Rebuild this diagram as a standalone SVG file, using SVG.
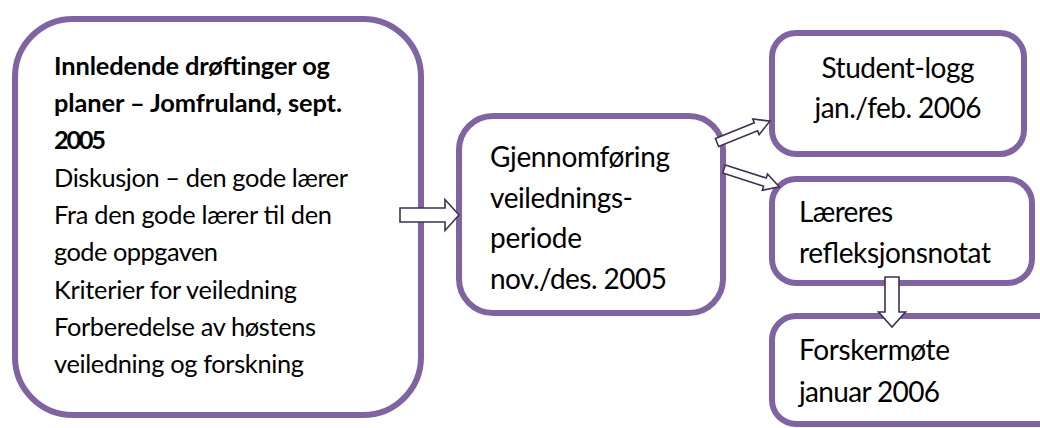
<svg xmlns="http://www.w3.org/2000/svg" width="1040" height="428" viewBox="0 0 1040 428">
<style>
.box{fill:#ffffff;stroke:#8064a2;stroke-width:6}
.arr{fill:#ffffff;stroke:#3f3151;stroke-width:1.6;stroke-linejoin:miter}
text{font-family:Lato,"Open Sans","Liberation Sans",sans-serif;fill:#000000}
.l{font-size:25.4px}
.b{font-weight:bold}
.m{font-size:28px}
</style>
<rect x="0" y="0" width="1040" height="428" fill="#ffffff"/>
<g id="node-planer">
<rect class="box" x="15" y="19" width="406" height="396" rx="58" ry="58"/>
<text class="l b" x="54" y="75" textLength="276">Innledende drøftinger og</text>
<text class="l b" x="54" y="112" textLength="288">planer – Jomfruland, sept.</text>
<text class="l b" x="54" y="149" textLength="52">2005</text>
<text class="l" x="54" y="187" textLength="294">Diskusjon – den gode lærer</text>
<text class="l" x="54" y="224" textLength="278">Fra den gode lærer til den</text>
<text class="l" x="54" y="261" textLength="164">gode oppgaven</text>
<text class="l" x="54" y="299" textLength="243">Kriterier for veiledning</text>
<text class="l" x="54" y="336" textLength="262">Forberedelse av høstens</text>
<text class="l" x="54" y="373" textLength="250">veiledning og forskning</text>
</g>
<g id="node-gjennomforing">
<rect class="box" x="459" y="116" width="264" height="197" rx="34" ry="34"/>
<text class="m" x="490" y="167" textLength="180">Gjennomføring</text>
<text class="m" x="490" y="208" textLength="143">veilednings-</text>
<text class="m" x="490" y="248" textLength="92">periode</text>
<text class="m" x="490" y="289" textLength="177">nov./des. 2005</text>
</g>
<g id="node-studentlogg">
<rect class="box" x="772" y="33" width="252" height="121" rx="24" ry="24"/>
<text class="m" x="898" y="78" text-anchor="middle" textLength="153">Student-logg</text>
<text class="m" x="898" y="118" text-anchor="middle" textLength="167">jan./feb. 2006</text>
</g>
<g id="node-laereres">
<rect class="box" x="772" y="179" width="260" height="104" rx="24" ry="24"/>
<text class="m" x="799" y="222" textLength="94">Læreres</text>
<text class="m" x="799" y="263" textLength="192">refleksjonsnotat</text>
</g>
<g id="node-forskermote">
<rect class="box" x="772" y="316" width="300" height="108" rx="24" ry="24"/>
<text class="m" x="799" y="360" textLength="151">Forskermøte</text>
<text class="m" x="799" y="402" textLength="141">januar 2006</text>
</g>
<g id="connectors">
<path class="arr" d="M400,208 H445 V199.5 L459,215 L445,230.5 V222 H400 Z"/>
<path class="arr" transform="translate(717,142.5) rotate(-22)" d="M0,-4.3 H42 V-8.5 L57,0 L42,8.5 V4.3 H0 Z"/>
<path class="arr" transform="translate(724,169) rotate(17.8)" d="M0,-4.3 H43 V-8.5 L58,0 L43,8.5 V4.3 H0 Z"/>
<path class="arr" d="M885,277 H899 V312 H905.5 L892,327 L878.5,312 H885 Z"/>
</g>
</svg>
